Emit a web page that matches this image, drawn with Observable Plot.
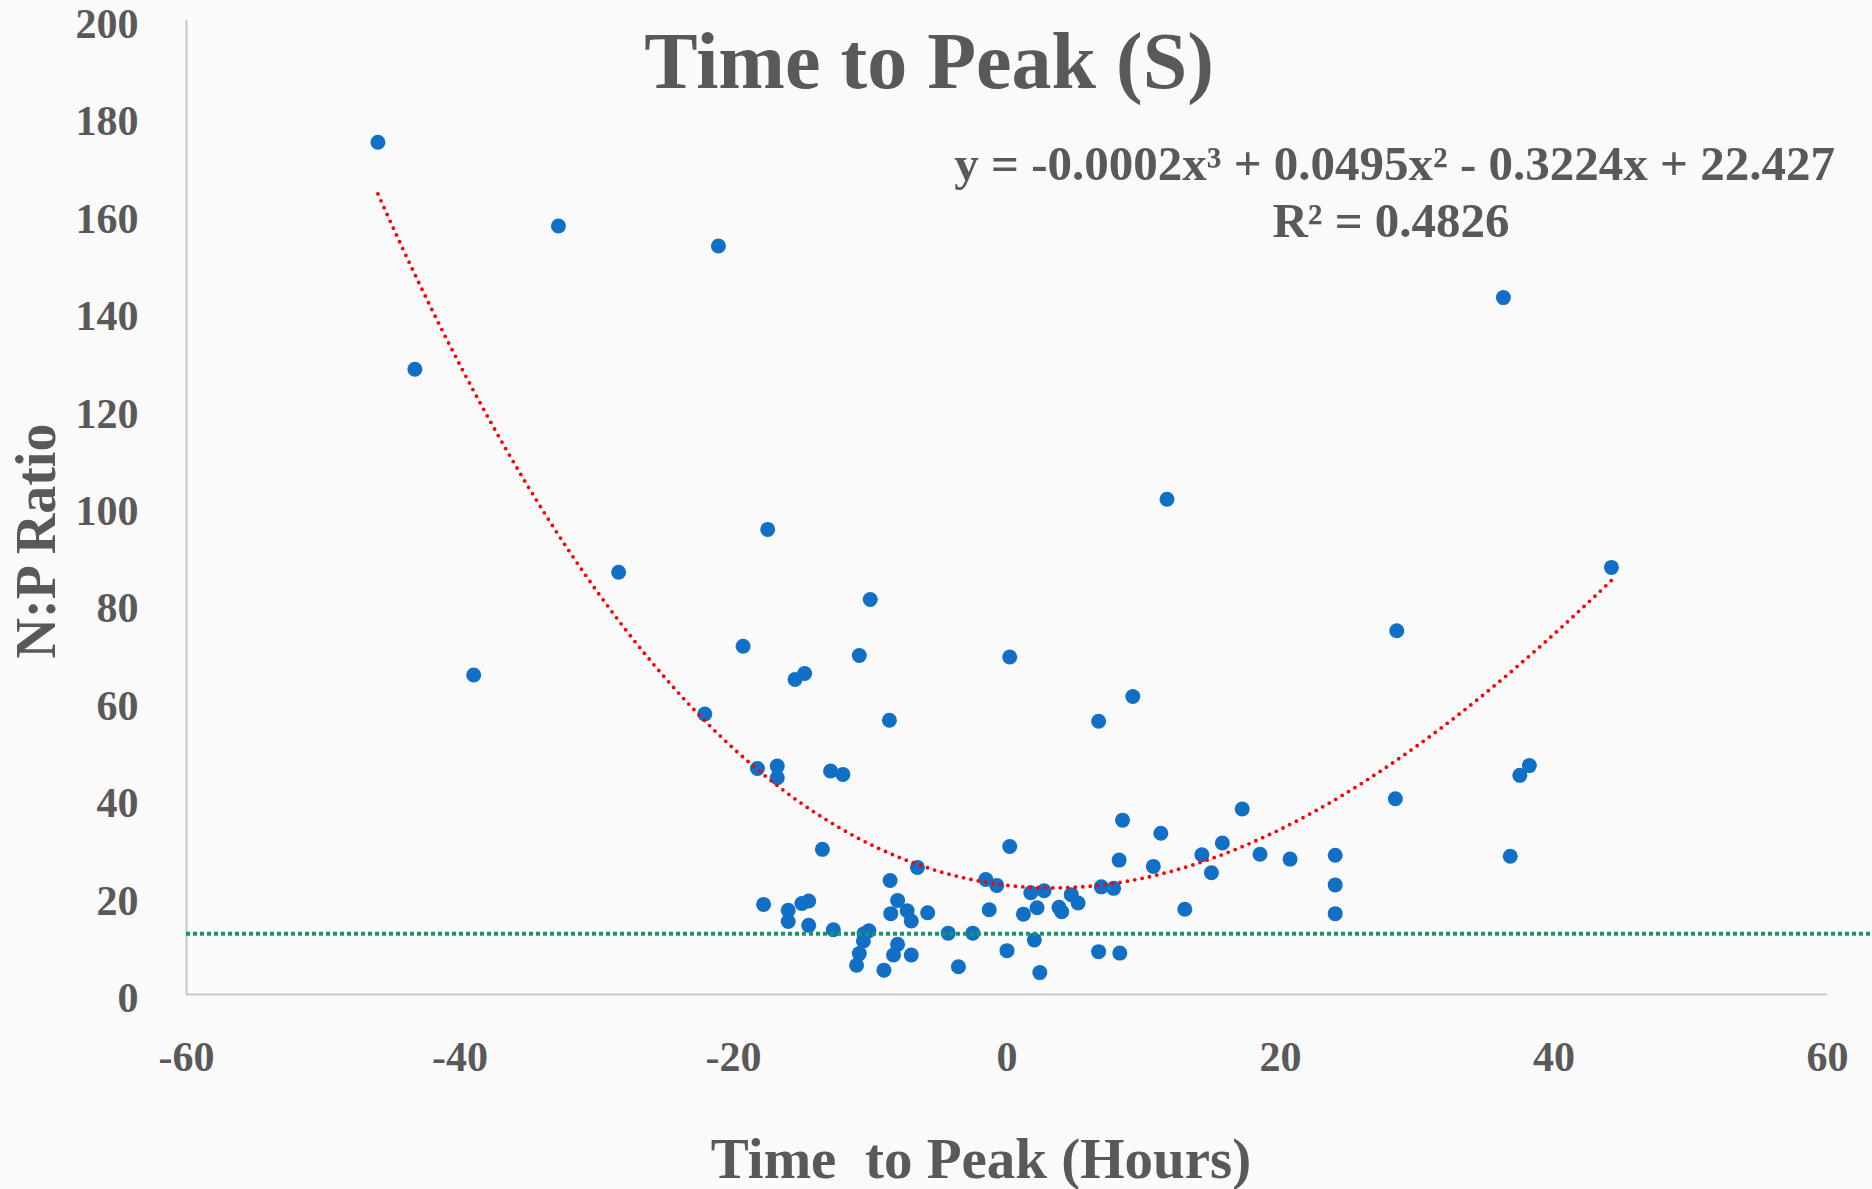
<!DOCTYPE html>
<html>
<head>
<meta charset="utf-8">
<script src="https://cdn.jsdelivr.net/npm/d3@7"></script>
<script src="https://cdn.jsdelivr.net/npm/@observablehq/plot@0.6"></script>
<style>
  html, body { margin: 0; padding: 0; background: #fafafa; }
  #chart { width: 1872px; height: 1189px; overflow: hidden; }
</style>
</head>
<body>
<div id="chart"></div>
<script>
// Data
const timeToPeak = [
  -46.0, -43.3, -39.0, -32.8, -28.4, -21.1, -22.1, -19.3, -17.5, -18.25,
  -16.8, -16.8, -15.5, -14.8, -12.9, -12.0, -13.5, -10.0, -10.8, -8.6,
  0.2, 0.2, 6.7, 9.2, 11.7, 8.45, 11.25, 17.2, 15.75, 14.25,
  18.5, 20.7, 24.0, 24.0, 24.0, 14.95, 13.0, 28.5, 28.4, 36.3,
  36.8, 37.5, 38.2, 44.2, 10.7, 8.2,
  -6.55, -8.55, -1.55, -0.75, 1.74, 2.71, -17.8, -16.0, -16.0, -15.0,
  -14.5, -14.5, -12.7, -8.0, -8.5, -7.3, -7.0, -5.8, -1.3, 1.2,
  2.2, 3.8, 4.0, 4.7, 5.2, 6.9, 7.8, -10.1, -10.45, -10.5,
  -10.8, -11.0, -8.0, -8.3, -7.0, -9.0, -4.3, -2.5, -3.55, 0.0,
  2.0, 2.4, 6.7, 8.25
];
const npRatio = [
  175.0, 128.4, 65.6, 157.8, 86.7, 153.7, 57.6, 71.5, 95.5, 46.4,
  46.9, 44.5, 64.7, 65.9, 45.9, 45.2, 29.8, 81.1, 69.6, 56.3,
  69.3, 30.4, 56.1, 61.2, 101.7, 35.8, 33.1, 38.1, 31.1, 28.7,
  28.8, 27.8, 28.6, 22.5, 16.6, 25.0, 17.5, 74.7, 40.2, 143.1,
  28.4, 45.0, 47.0, 87.7, 26.3, 27.6,
  26.1, 23.4, 23.6, 22.4, 20.9, 21.3, 18.5, 17.3, 15.0, 18.7,
  19.2, 14.2, 13.3, 19.3, 16.6, 17.2, 15.1, 16.8, 17.4, 16.5,
  17.8, 17.9, 17.0, 20.5, 18.8, 22.1, 21.8, 13.1, 12.5, 11.0,
  8.4, 6.0, 10.3, 8.1, 8.1, 5.0, 12.6, 12.6, 5.7, 9.0,
  11.2, 4.5, 8.8, 8.5
];
// Trendline shown on the chart (label rounds the cubic term to -0.0002;
// the drawn curve matches about -0.00023 as read from its end points)
const trendCoefficients = [22.427, -0.3224, 0.0495, -0.00023];
const trendRange = [-46.0, 44.2];
const thresholdY = [12.5];
const xTicks = [-60, -40, -20, 0, 20, 40, 60];
const yTicks = [0, 20, 40, 60, 80, 100, 120, 140, 160, 180, 200];

const points = timeToPeak.map((x, i) => ({x, y: npRatio[i]}));
const poly = x => trendCoefficients.reduce((s, c, k) => s + c * Math.pow(x, k), 0);
const trend = d3.range(trendRange[0], trendRange[1] + 0.001, 0.2).map(x => ({x, y: poly(x)}));

const textColor = "#595959";
const fontFamily = "'Liberation Serif', 'DejaVu Serif', serif";

const chart = Plot.plot({
  width: 1872,
  height: 1189,
  marginLeft: 186,
  marginRight: 45,
  marginTop: 20,
  marginBottom: 195,
  style: {background: "transparent", fontFamily, fontWeight: "bold", color: textColor, overflow: "visible"},
  x: {domain: [-60, 60]},
  y: {domain: [0, 200]},
  marks: [
    Plot.axisY({ticks: yTicks, tickSize: 0, tickPadding: 48, fontSize: 42, dy: 4, fill: textColor, label: null, tickFormat: d => String(d)}),
    Plot.axisX({ticks: xTicks, tickSize: 0, tickPadding: 47, fontSize: 42, fill: textColor, label: null, tickFormat: d => String(d)}),
    Plot.ruleX([-60], {stroke: "#c6c6c6", strokeWidth: 2}),
    Plot.ruleY([0], {stroke: "#c6c6c6", strokeWidth: 2}),
    Plot.dot(points, {x: "x", y: "y", r: 7.5, fill: "#1170c6", stroke: "none"}),
    Plot.ruleY(thresholdY, {x1: -60, x2: 66, stroke: "#12996b", strokeWidth: 4, strokeDasharray: "4,3"}),
    Plot.line(trend, {x: "x", y: "y", stroke: "#ff0000", strokeWidth: 3.8, strokeDasharray: "0,7.5", strokeLinecap: "round"})
  ]
});
document.getElementById("chart").appendChild(chart);

const svg = d3.select(chart);
function addText(txt, x, y, size, anchor, rotate) {
  return svg.append("text")
    .attr("transform", `translate(${x},${y})` + (rotate ? ` rotate(${rotate})` : ""))
    .attr("text-anchor", anchor)
    .attr("fill", textColor)
    .attr("font-family", fontFamily)
    .attr("font-weight", "bold")
    .attr("font-size", size)
    .style("white-space", "pre")
    .text(txt);
}
addText("Time to Peak (S)", 929, 88, 80, "middle");
addText("y = -0.0002x³ + 0.0495x² - 0.3224x + 22.427", 1835, 180, 49, "end");
addText("R² = 0.4826", 1391, 237, 49, "middle");
addText("Time  to Peak (Hours)", 981, 1178, 57, "middle");
addText("N:P Ratio", 55, 541, 56, "middle", -90);
</script>
</body>
</html>
